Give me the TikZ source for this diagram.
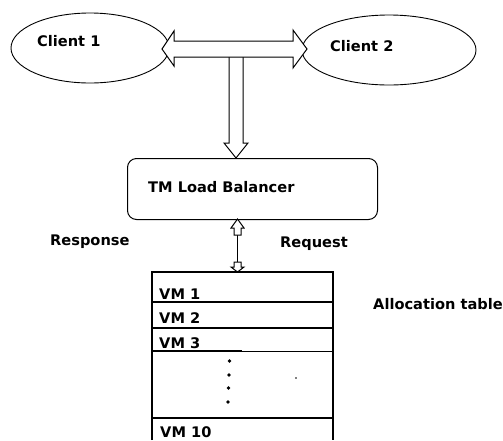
\documentclass[tikz,border=0pt]{standalone}
\usepackage{fontspec}
\setmainfont{DejaVu Sans}
\usetikzlibrary{shapes,arrows}
\usetikzlibrary{calc}

\tikzset{
    lbl/.style={anchor=base west, inner sep=0pt, font=\fontsize{14.6}{16}\selectfont\bfseries},
    client/.style={draw, ellipse, line width=0.9pt, inner sep=0pt},
    blockarrow/.style={draw, fill=white, line width=1pt, line join=miter},
    tbl/.style={line width=1.2pt}
}

\begin{document}
\begin{tikzpicture}[x=1pt, y=-1pt]
    \useasboundingbox (0,0) rectangle (503,440);

    % clients
    \node[client, minimum width=158pt, minimum height=70pt] (c1) at (90,48) {};
    \node[client, minimum width=174pt, minimum height=70pt] (c2) at (389,50) {};
    \node[lbl] (c1t) at (37,46) {Client 1};
    \node[lbl] (c2t) at (330,51) {Client 2};

    % load balancer
    \node[draw, rounded corners=9pt, line width=1pt, minimum width=250pt, minimum height=61pt,
          inner sep=0pt] (lb) at (252.5,189) {};
    \node[lbl] (lbt) at (148,192) {TM Load Balancer};

    % block arrows between the clients and down to the balancer
    \draw[blockarrow] (243,50) -- (243,143) -- (248,143) -- (236,158) -- (224,143)
        -- (229,143) -- (229,50) -- cycle;
    \draw[blockarrow] (162,49) -- (174,31) -- (174,41) -- (293,41) -- (293,30) -- (307,49)
        -- (293,68) -- (293,57) -- (174,57) -- (174,66) -- cycle;

    % request / response
    \coordinate (rq) at (237.5,219);
    \coordinate (rs) at (237.5,272);
    \draw[line width=1pt] (237.5,235) -- (237.5,262);
    \draw[blockarrow] (rq) -- (244,228) -- (241,228) -- (241,235) -- (234,235) -- (234,228)
        -- (231,228) -- cycle;
    \draw[blockarrow] (rs) -- (244,267) -- (241,267) -- (241,262) -- (234,262) -- (234,267)
        -- (231,267) -- cycle;
    \node[lbl] (resp) at (50,245) {Response};
    \node[lbl] (req) at (280,247) {Request};

    % allocation table
    \draw[tbl] (152,440) -- (152,272) -- (333,272) -- (333,440);
    \foreach \y in {302,328,418}
        \draw[tbl] (152,\y) -- (333,\y);
    \draw[line width=1.5pt] (152,351) -- (242,351);
    \draw[line width=0.9pt] (242,351) -- (333,351);
    \node[lbl] (vm1) at (159,299) {VM 1};
    \node[lbl] (vm2) at (159,323) {VM 2};
    \node[lbl] (vm3) at (159,348) {VM 3};
    \node[lbl] (vm10) at (160,437.5) {VM 10};
    \foreach \y/\x in {361/229.5,375/229,388/228.5,402/228}
        \fill (\x,\y) circle (1.9pt);
    \fill (296,378) circle (0.8pt);
    \node[lbl] (alloc) at (373,309) {Allocation table};
\end{tikzpicture}
\end{document}
